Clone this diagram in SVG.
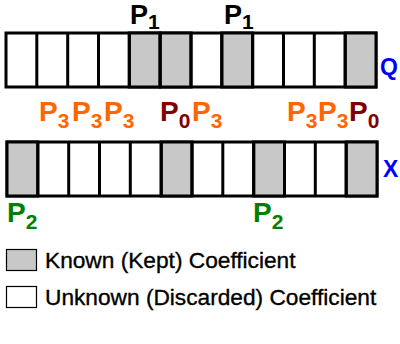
<svg xmlns="http://www.w3.org/2000/svg" width="400" height="344" viewBox="0 0 400 344">
<style>
.cell{stroke:#000;stroke-width:3;fill:#fff}
.k{fill:#c8c8c8}
.lg{stroke:#000;stroke-width:1.2}
text{font-family:"Liberation Sans",Arial,sans-serif}
.p{font-size:28px;font-weight:bold}
.s{font-size:21px}
.or{fill:#ff6600}
.dr{fill:#800000}
.gr{fill:#008000}
.bl{fill:#0000ff;font-weight:bold;font-size:23px}
.leg{font-size:22.7px;fill:#000;stroke:#000;stroke-width:0.35}
</style>
<rect width="400" height="344" fill="#fff"/>
<g id="rowQ">
<rect class="cell" x="6" y="33" width="370" height="54"/>
<rect class="cell k" x="129.3" y="33" width="30.8" height="54"/>
<rect class="cell k" x="160.2" y="33" width="30.8" height="54"/>
<rect class="cell k" x="221.8" y="33" width="30.8" height="54"/>
<rect class="cell k" x="345.2" y="33" width="30.8" height="54"/>
<path d="M36.8 33V87M67.7 33V87M98.5 33V87M129.3 33V87M160.2 33V87M191 33V87M221.8 33V87M252.7 33V87M283.5 33V87M314.3 33V87M345.2 33V87" stroke="#000" stroke-width="3"/>
<text class="bl" x="380" y="75">Q</text>
</g>
<g id="labelsP1">
<text class="p" x="130" y="24" style="font-size:27px">P<tspan class="s" dy="5">1</tspan></text>
<text class="p" x="224" y="24" style="font-size:27px">P<tspan class="s" dy="5">1</tspan></text>
</g>
<g id="labelsMid">
<text class="p or" x="39" y="121">P<tspan class="s" dy="7">3</tspan><tspan dy="-7" x="72">P</tspan><tspan class="s" dy="7">3</tspan><tspan dy="-7" x="104">P</tspan><tspan class="s" dy="7">3</tspan></text>
<text class="p dr" x="160" y="121">P<tspan class="s" dy="7">0</tspan></text>
<text class="p or" x="192" y="121">P<tspan class="s" dy="7">3</tspan></text>
<text class="p or" x="287" y="121">P<tspan class="s" dy="7">3</tspan><tspan dy="-7" x="318">P</tspan><tspan class="s" dy="7">3</tspan></text>
<text class="p dr" x="349" y="121">P<tspan class="s" dy="7">0</tspan></text>
</g>
<g id="rowX">
<rect class="cell" x="7" y="142" width="370" height="54"/>
<rect class="cell k" x="7" y="142" width="30.8" height="54"/>
<rect class="cell k" x="161.2" y="142" width="30.8" height="54"/>
<rect class="cell k" x="253.7" y="142" width="30.8" height="54"/>
<rect class="cell k" x="346.2" y="142" width="30.8" height="54"/>
<path d="M37.8 142V196M68.7 142V196M99.5 142V196M130.3 142V196M161.2 142V196M192 142V196M222.8 142V196M253.7 142V196M284.5 142V196M315.3 142V196M346.2 142V196" stroke="#000" stroke-width="3"/>
<text class="bl" x="383" y="177">X</text>
</g>
<g id="labelsP2">
<text class="p gr" x="7" y="222">P<tspan class="s" dy="7">2</tspan></text>
<text class="p gr" x="253" y="222">P<tspan class="s" dy="7">2</tspan></text>
</g>
<g id="legend">
<rect class="lg" x="6.5" y="249.5" width="30" height="21" fill="#c8c8c8"/>
<text class="leg" x="45" y="268">Known (Kept) Coefficient</text>
<rect class="lg" x="6.5" y="286.5" width="30" height="21" fill="#fff"/>
<text class="leg" x="45" y="305">Unknown (Discarded) Coefficient</text>
</g>
</svg>
